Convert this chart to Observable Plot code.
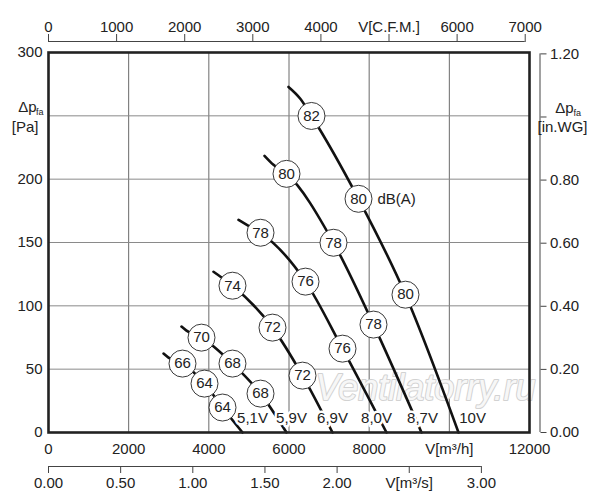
<!DOCTYPE html>
<html><head><meta charset="utf-8">
<script src="https://cdn.jsdelivr.net/npm/d3@7"></script>
<script src="https://cdn.jsdelivr.net/npm/@observablehq/plot@0.6"></script>
<style>
body{margin:0;background:#fff;}
</style></head><body><div id="chart"></div>
<script>
// ---- data ----
const voltages = ["5,1V", "5,9V", "6,9V", "8,0V", "8,7V", "10V"];
// characteristic curves: airflow [m3/h] and static pressure [Pa]
const curveFlow = [
  [2869, 2994, 3343, 3892, 4341, 4840],
  [3318, 3443, 3817, 4590, 5289, 5938],
  [4116, 4291, 4590, 5588, 6337, 7085],
  [4740, 4990, 5289, 6412, 7335, 8432],
  [5389, 5613, 5938, 7110, 8108, 9306],
  [5988, 6287, 6561, 7734, 8906, 10229]
];
const curvePressure = [
  [62.3, 59.1, 54.4, 38.6, 19.7, 0],
  [83.6, 80.4, 74.9, 54.4, 30.7, 0],
  [126.9, 123.0, 115.9, 82.8, 44.9, 0],
  [167.9, 163.2, 157.7, 119.1, 66.2, 0],
  [218.4, 211.3, 204.2, 149.8, 85.2, 0],
  [272.8, 263.3, 249.9, 184.5, 108.8, 0]
];
// sound level markers dB(A)
const dbFlow = [
  [3343, 3892, 4341],
  [3817, 4590, 5289],
  [4590, 5588, 6337],
  [5289, 6412, 7335],
  [5938, 7110, 8108],
  [6561, 7734, 8906]
];
const dbPressure = [
  [54.4, 38.6, 19.7],
  [74.9, 54.4, 30.7],
  [115.9, 82.8, 44.9],
  [157.7, 119.1, 66.2],
  [204.2, 149.8, 85.2],
  [249.9, 184.5, 108.8]
];
const dbValues = [
  [66, 64, 64],
  [70, 68, 68],
  [74, 72, 72],
  [78, 76, 76],
  [80, 78, 78],
  [82, 80, 80]
];
// voltage label positions
const voltLabelFlow = [5090, 6063, 7086, 8183, 9331, 10579];
const voltLabelPressure = [11, 11, 11, 11, 11, 11];

// ticks
const m3hTicks = [0, 2000, 4000, 6000, 8000, 10000, 12000];
const paTicks = [0, 50, 100, 150, 200, 250, 300];
const cfmTicks = [0, 1000, 2000, 3000, 4000, 5000, 6000, 7000];
const inwgTicks = [0, 0.2, 0.4, 0.6, 0.8, 1.0, 1.2];
const m3sTicks = [0, 0.5, 1.0, 1.5, 2.0, 2.5, 3.0];

const CFM = 1.69901, INWG = 249.089, M3S = 3600;

// ---- tables ----
const curveRows = [];
voltages.forEach((v, i) => curveFlow[i].forEach((f, j) => curveRows.push({volt: v, flow: f, p: curvePressure[i][j]})));
const dbRows = [];
voltages.forEach((v, i) => dbFlow[i].forEach((f, j) => dbRows.push({volt: v, flow: f, p: dbPressure[i][j], db: dbValues[i][j]})));
const voltRows = voltages.map((v, i) => ({volt: v, flow: voltLabelFlow[i], p: voltLabelPressure[i]}));

const ink = "#222";
const chart = Plot.plot({
  width: 600, height: 500,
  marginLeft: 48, marginRight: 71, marginTop: 52, marginBottom: 68,
  x: {domain: [m3hTicks[0], m3hTicks[m3hTicks.length - 1]], label: null},
  y: {domain: [paTicks[0], paTicks[paTicks.length - 1]], label: null},
  style: {fontFamily: "'Liberation Sans', Arial, sans-serif", fontSize: "15px", color: ink, background: "white"},
  marks: [
    Plot.gridX(m3hTicks.slice(1, -1), {stroke: "#6a6a6a", strokeOpacity: 1, strokeWidth: 1}),
    Plot.gridY(paTicks.slice(1, -1), {stroke: "#8a8a8a", strokeOpacity: 1, strokeWidth: 1}),
    Plot.text(["Ventilatorry.ru"], {x: 9405, y: 34.7, fontSize: 36, fontStyle: "italic", fill: "#f7f7f7", stroke: "#d2d2d2", strokeWidth: 2}),
    Plot.line(curveRows, {x: "flow", y: "p", z: "volt", curve: "monotone-x", stroke: "#111", strokeWidth: 2.6}),
    Plot.text(voltRows, {x: "flow", y: "p", text: "volt", fill: ink, stroke: "white", strokeWidth: 5}),
    Plot.dot(dbRows, {x: "flow", y: "p", r: 13.5, fill: "white", stroke: ink, strokeWidth: 0.9}),
    Plot.text(dbRows, {x: "flow", y: "p", text: "db", fill: ink}),
    Plot.text([dbRows[dbRows.length - 2]], {x: "flow", y: "p", text: () => "dB(A)", dx: 19, textAnchor: "start", fill: ink}),
    Plot.frame({stroke: ink, strokeWidth: 2.6}),
    // bottom m3/h labels
    Plot.axisX(m3hTicks, {anchor: "bottom", tickSize: 0, tickPadding: 10.7, label: null,
      tickFormat: d => d === 10000 ? "V[m³/h]" : String(d)}),
    // bottom m3/s axis
    Plot.ruleY([0], {x1: m3sTicks[0] * M3S, x2: m3sTicks[m3sTicks.length - 1] * M3S, dy: 34, stroke: "#444"}),
    Plot.axisX(m3sTicks.map(d => d * M3S), {anchor: "bottom", dy: 34, tickSize: 7, tickPadding: 4, label: null, stroke: "#444",
      tickFormat: d => (d / M3S === 2.5 ? "V[m³/s]" : (d / M3S).toFixed(2))}),
    // top CFM axis
    Plot.ruleY([300], {x1: cfmTicks[0] * CFM, x2: cfmTicks[cfmTicks.length - 1] * CFM, dy: -11, stroke: "#444"}),
    Plot.axisX(cfmTicks.map(d => d * CFM), {anchor: "top", dy: -11, tickSize: 8, tickPadding: 2, label: null, stroke: "#444",
      tickFormat: d => (Math.round(d / CFM) === 5000 ? "V[C.F.M.]" : String(Math.round(d / CFM)))}),
    // left Pa axis
    Plot.axisY(paTicks, {anchor: "left", tickSize: 0, tickPadding: 6, label: null,
      tickFormat: d => d === 250 ? "" : String(d)}),
    Plot.text(["Δp"], {x: 0, y: 250, dx: -12, dy: -9, textAnchor: "end", fill: ink}),
    Plot.text(["fa"], {x: 0, y: 250, dx: -5, dy: -4, textAnchor: "end", fontSize: 9, fill: ink}),
    Plot.text(["[Pa]"], {x: 0, y: 250, dx: -10, dy: 11, textAnchor: "end", fill: ink}),
    // right in.WG axis
    Plot.ruleX([12000], {y1: inwgTicks[0] * INWG, y2: inwgTicks[inwgTicks.length - 1] * INWG, dx: 10.5, stroke: "#444"}),
    Plot.axisY(inwgTicks.map(d => d * INWG), {anchor: "right", dx: 10.5, tickSize: 6, tickPadding: 4, label: null, stroke: "#444",
      tickFormat: d => (Math.abs(d / INWG - 1) < 1e-6 ? "" : (d / INWG).toFixed(2))}),
    Plot.text(["Δp"], {x: 12000, y: INWG, dx: 35, dy: -8.5, textAnchor: "middle", fill: ink}),
    Plot.text(["fa"], {x: 12000, y: INWG, dx: 44, dy: -4, textAnchor: "start", fontSize: 9, fill: ink}),
    Plot.text(["[in.WG]"], {x: 12000, y: INWG, dx: 33, dy: 10, textAnchor: "middle", fill: ink})
  ]
});
document.getElementById("chart").appendChild(chart);
</script>
</body></html>
